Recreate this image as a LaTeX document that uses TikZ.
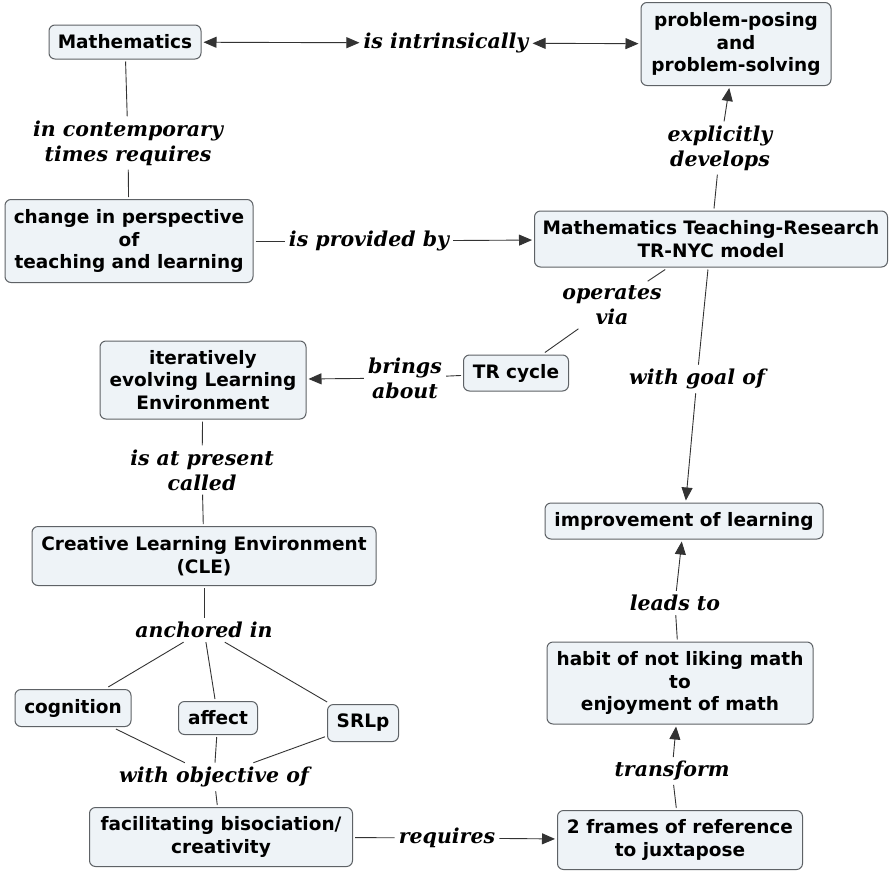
\documentclass[tikz,border=0pt]{standalone}
\usepackage{fontspec}
\usetikzlibrary{arrows.meta}
\newfontfamily\conceptfamily{DejaVu Sans}
\newfontfamily\linkfamily{DejaVu Serif}
\definecolor{boxfill}{HTML}{EEF3F7}
\definecolor{boxline}{HTML}{5E6266}
\definecolor{linkline}{HTML}{333333}
\tikzset{
  concept/.style={draw=boxline, line width=1pt, fill=boxfill, rounded corners=6pt,
    align=center, inner sep=0pt, outer sep=2.5pt, text=black,
    font=\conceptfamily\bfseries\fontsize{18.5}{22.5}\selectfont},
  linklabel/.style={align=center, inner sep=4pt, text=black,
    font=\linkfamily\bfseries\itshape\fontsize{20.5}{25}\selectfont},
  conn/.style={draw=linkline, line width=0.9pt},
  arr/.style={conn, -{Triangle[length=13pt,width=11pt]}},
  biarr/.style={conn, {Triangle[length=13pt,width=11pt]}-{Triangle[length=13pt,width=11pt]}}
}
\begin{document}
\begin{tikzpicture}[x=1pt, y=-1pt]
\useasboundingbox (0,0) rectangle (889,873);
\fill[white] (0,0) rectangle (889,873);

% concepts
\node[concept, minimum width=152pt, minimum height=34pt] (math) at (125,42) {Mathematics};
\node[concept, minimum width=190pt, minimum height=83pt] (prob) at (736,44) {problem-posing\\and\\problem-solving};
\node[concept, minimum width=248pt, minimum height=83pt] (change) at (129,241) {change in perspective\\of\\teaching and learning};
\node[concept, minimum width=353pt, minimum height=56pt] (trnyc) at (711,239) {Mathematics Teaching-Research\\TR-NYC model};
\node[concept, minimum width=105pt, minimum height=36pt] (trcycle) at (516,373) {TR cycle};
\node[concept, minimum width=206pt, minimum height=78pt] (iter) at (203,380) {iteratively\\evolving Learning\\Environment};
\node[concept, minimum width=344pt, minimum height=59pt] (cle) at (204,556) {Creative Learning Environment\\(CLE)};
\node[concept, minimum width=116pt, minimum height=37pt] (cog) at (73,708) {cognition};
\node[concept, minimum width=79pt, minimum height=33pt] (affect) at (218,718) {affect};
\node[concept, minimum width=71pt, minimum height=37pt] (srlp) at (363,723) {SRLp};
\node[concept, minimum width=263pt, minimum height=59pt] (facil) at (221,837) {facilitating bisociation/\\creativity};
\node[concept, minimum width=245pt, minimum height=59pt] (frames) at (680,840) {2 frames of reference\\to juxtapose};
\node[concept, minimum width=266pt, minimum height=82pt] (habit) at (680,683) {habit of not liking math\\to\\enjoyment of math};
\node[concept, minimum width=278pt, minimum height=36pt] (improve) at (684,521) {improvement of learning};

% link labels
\node[linklabel] (intrins) at (446,43) {is intrinsically};
\node[linklabel] (contemp) at (128,143) {in contemporary\\times requires};
\node[linklabel] (provided) at (369,241) {is provided by};
\node[linklabel] (explicit) at (720,148) {explicitly\\develops};
\node[linklabel] (operates) at (612,305) {operates\\via};
\node[linklabel] (brings) at (405,378) {brings\\about};
\node[linklabel] (goal) at (697,379) {with goal of};
\node[linklabel] (present) at (202,470) {is at present\\called};
\node[linklabel] (anchored) at (204,630) {anchored in};
\node[linklabel] (objective) at (214,777) {with objective of};
\node[linklabel] (requires) at (447,838) {requires};
\node[linklabel] (transform) at (672,771) {transform};
\node[linklabel] (leads) at (675,603) {leads to};

% connectors
\draw[biarr] (math) -- (intrins);
\draw[biarr] (intrins) -- (prob);
\draw[conn] (math) -- (contemp);
\draw[conn] (contemp) -- (change);
\draw[conn] (change) -- (provided);
\draw[arr] (provided) -- (trnyc);
\draw[conn] (trnyc) -- (explicit);
\draw[arr] (explicit) -- (prob);
\draw[conn] (trnyc) -- (operates);
\draw[conn] (operates) -- (trcycle);
\draw[conn] (trcycle) -- (brings);
\draw[arr] (brings) -- (iter);
\draw[conn] (trnyc) -- (goal);
\draw[arr] (goal) -- (improve);
\draw[conn] (iter) -- (present);
\draw[conn] (present) -- (cle);
\draw[conn] (cle) -- (anchored);
\draw[conn] (anchored) -- (cog);
\draw[conn] (anchored) -- (affect);
\draw[conn] (anchored) -- (srlp);
\draw[conn] (cog) -- (objective);
\draw[conn] (affect) -- (objective);
\draw[conn] (srlp) -- (objective);
\draw[conn] (objective) -- (facil);
\draw[conn] (facil) -- (requires);
\draw[arr] (requires) -- (frames);
\draw[conn] (frames) -- (transform);
\draw[arr] (transform) -- (habit);
\draw[conn] (habit) -- (leads);
\draw[arr] (leads) -- (improve);
\end{tikzpicture}
\end{document}
